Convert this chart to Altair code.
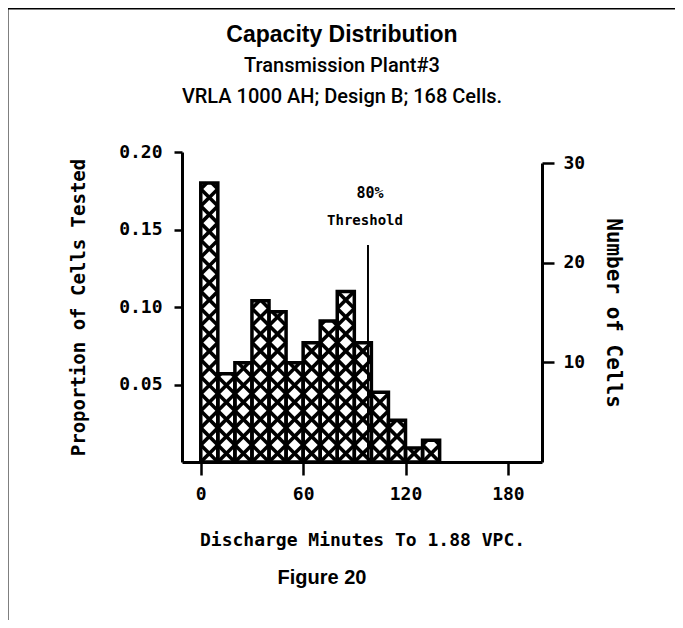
import math
import altair as alt
import pandas as pd

# ---- data ----
bin_start = [0, 10, 20, 30, 40, 50, 60, 70, 80, 90, 100, 110, 120, 130]
proportion = [0.180, 0.057, 0.064, 0.104, 0.097, 0.064, 0.077, 0.091, 0.110,
              0.077, 0.045, 0.027, 0.009, 0.014]
bin_width = 10
threshold_min = 98
threshold_top = 0.14
x_ticks = [0, 60, 120, 180]
left_ticks = [0.05, 0.10, 0.15, 0.20]
right_ticks = [10, 20, 30]

# ---- layout ----
W, H = 360, 310
X_DOMAIN = [-11, 200]
Y_DOMAIN = [0, 0.2]
MONO = "DejaVu Sans Mono"

bars = pd.DataFrame({
    "x0": bin_start,
    "x1": [b + bin_width for b in bin_start],
    "p": proportion,
})

# cross-hatch segments (square cells stacked in every bar), derived from bars
px_per_min = W / (X_DOMAIN[1] - X_DOMAIN[0])
px_per_unit = H / (Y_DOMAIN[1] - Y_DOMAIN[0])
cell_h = bin_width * px_per_min / px_per_unit
segs = []
for x0, h in zip(bin_start, proportion):
    x1 = x0 + bin_width
    n = math.ceil(h / cell_h - 1e-9)
    for k in range(n):
        ya = k * cell_h
        yb = ya + cell_h
        if yb <= h:
            segs.append((x0, ya, x1, yb))
            segs.append((x0, yb, x1, ya))
        else:
            t = (h - ya) / cell_h
            segs.append((x0, ya, x0 + t * bin_width, h))
            segs.append((x1 - t * bin_width, h, x1, ya))
hatch = pd.DataFrame(segs, columns=["xa", "ya", "xb", "yb"])

xs = alt.Scale(domain=X_DOMAIN, nice=False, zero=False)
ys = alt.Scale(domain=Y_DOMAIN, nice=False)

x_axis = alt.Axis(values=x_ticks, title="Discharge Minutes To 1.88 VPC.",
                  grid=False, tickSize=13, tickWidth=2.5, domainWidth=3,
                  domainColor="black", tickColor="black",
                  labelFont=MONO, labelFontSize=18, labelFontWeight="bold",
                  labelColor="black", labelPadding=10,
                  titleFont=MONO, titleFontSize=18, titleFontWeight="bold",
                  titleColor="black", titlePadding=28, labelFlush=False)
y_axis = alt.Axis(values=left_ticks, format=".2f", title="Proportion of Cells Tested",
                  grid=False, tickSize=8, tickWidth=2.5, domainWidth=3,
                  domainColor="black", tickColor="black",
                  labelFont=MONO, labelFontSize=18, labelFontWeight="bold",
                  labelColor="black", labelPadding=12,
                  titleFont=MONO, titleFontSize=19, titleFontWeight="bold",
                  titleColor="black", titlePadding=30)

base_bars = alt.Chart(bars).mark_rect(fill="white", stroke=None).encode(
    x=alt.X("x0:Q", scale=xs, axis=x_axis),
    x2="x1:Q",
    y=alt.Y("p:Q", scale=ys, axis=y_axis),
    y2=alt.datum(0),
)

hatch_layer = alt.Chart(hatch).mark_rule(color="black", strokeWidth=3.6).encode(
    x=alt.X("xa:Q", scale=xs),
    x2="xb:Q",
    y=alt.Y("ya:Q", scale=ys),
    y2="yb:Q",
)

outline = alt.Chart(bars).mark_rect(fill=None, stroke="black", strokeWidth=3.5).encode(
    x=alt.X("x0:Q", scale=xs),
    x2="x1:Q",
    y=alt.Y("p:Q", scale=ys),
    y2=alt.datum(0),
)

thr = pd.DataFrame({"x": [threshold_min], "y": [0.0], "y2": [threshold_top]})
thr_line = alt.Chart(thr).mark_rule(color="black", strokeWidth=2).encode(
    x=alt.X("x:Q", scale=xs),
    y=alt.Y("y:Q", scale=ys),
    y2="y2:Q",
)

left = alt.layer(base_bars, hatch_layer, outline, thr_line)

# right axis: number of cells
cnt = pd.DataFrame({"n": [0, 30]})
right = alt.Chart(cnt).mark_point(opacity=0).encode(
    y=alt.Y("n:Q", scale=alt.Scale(domain=[0, 30], range=[H, 11], nice=False),
            axis=alt.Axis(orient="right", values=right_ticks, title="Number of Cells",
                          grid=False, tickSize=12, tickWidth=2.5, domainWidth=3,
                          domainColor="black", tickColor="black",
                          labelFont=MONO, labelFontSize=18, labelFontWeight="bold",
                          labelColor="black", labelPadding=9,
                          titleFont=MONO, titleFontSize=21, titleFontWeight="bold",
                          titleColor="black", titleAngle=90, titlePadding=18)),
)


def label(text, x, y, size, font, weight="normal"):
    return alt.Chart(pd.DataFrame({"t": [text]})).mark_text(
        font=font, fontSize=size, fontWeight=weight, color="black",
        align="center", baseline="middle",
    ).encode(x=alt.value(x), y=alt.value(y), text="t:N")


texts = alt.layer(
    label("Capacity Distribution", 160, -117, 23, "Liberation Sans", "bold"),
    label("Transmission Plant#3", 160, -86, 20, "Roboto", 500),
    label("VRLA 1000 AH; Design B; 168 Cells.", 160, -55, 20, "Roboto", 500),
    label("80%", 188, 41, 15, MONO, "bold"),
    label("Threshold", 183, 69, 14, MONO, "bold"),
    label("Figure 20", 140, 426, 20, "Liberation Sans", "bold"),
)

frame_df = pd.DataFrame({"k": [0]})
frame_top = alt.Chart(frame_df).mark_rule(color="black", strokeWidth=3).encode(
    x=alt.value(-176), x2=alt.value(505), y=alt.value(-144))
frame_left = alt.Chart(frame_df).mark_rule(color="black", strokeWidth=3).encode(
    x=alt.value(-175), y=alt.value(-145), y2=alt.value(480))

chart = alt.layer(left, right, texts, frame_top, frame_left).resolve_scale(
    y="independent"
).properties(
    width=W, height=H,
    autosize=alt.AutoSizeParams(type="none"),
    padding={"left": 174, "top": 144, "right": 133, "bottom": 158},
    background="white",
).configure_view(stroke=None)

chart.save("out.html", embed_options={"renderer": "svg", "actions": False})
